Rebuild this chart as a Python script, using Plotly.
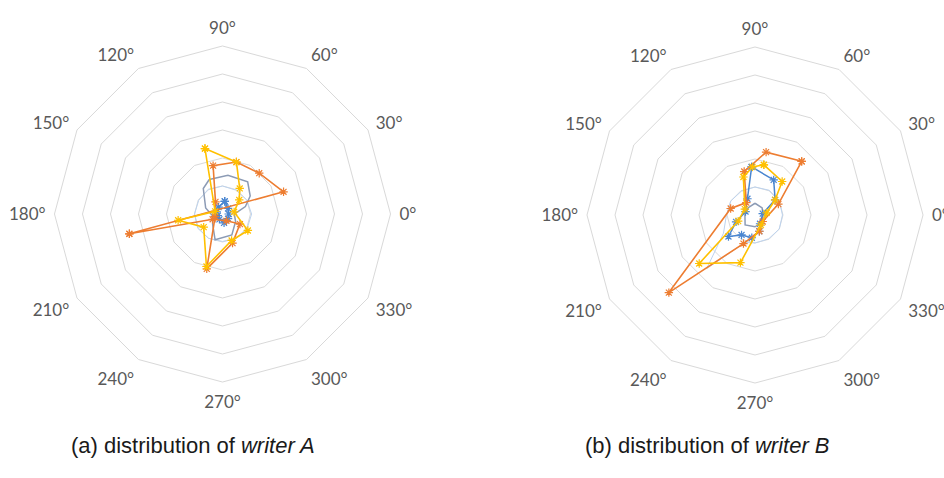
import plotly.graph_objects as go

# Direction labels shown around each radar (12 directions, 30 degrees apart)
ANGLE_LABELS = [f"{a}°" for a in range(0, 360, 30)]
RING_MAX = 30      # outer ring, percent
RING_STEP = 5      # ring spacing, percent

# ---- writer A: stroke-direction distributions (theta in degrees, r in percent)
A_ORANGE_THETA = [192, 20, 48, 75, 101, 120, 200, 254, 289, 330, 300, 208]
A_ORANGE_R = [17.0, 11.6, 9.8, 9.6, 8.8, 2.5, 1.4, 10.2, 5.5, 3.6, 1.4, 2.0]

A_YELLOW_THETA = [105, 75, 56, 40, 10, 327, 289, 253, 215, 188, 160]
A_YELLOW_R = [12.1, 9.6, 5.5, 3.9, 2.1, 5.4, 5.0, 9.8, 4.1, 8.0, 1.4]

A_GRAY_THETA = [111, 82, 52, 33, 18, 0, 330, 294, 254, 225, 190, 160, 127]
A_GRAY_R = [6.6, 7.0, 7.3, 5.9, 4.3, 2.1, 2.7, 4.1, 4.8, 2.5, 1.8, 3.2, 5.7]

A_BLUE_THETA = [80, 45, 0, 320, 280, 240, 200, 160, 120]
A_BLUE_R = [2.3, 1.4, 1.1, 1.3, 1.6, 1.1, 0.9, 1.1, 1.4]

A_LIGHT_THETA = [0, 30, 60, 90, 120, 150, 180, 210, 240, 270, 300, 330]
A_LIGHT_R = [5.2, 5.0, 4.9, 5.0, 5.1, 4.9, 5.0, 5.1, 5.0, 4.9, 5.0, 5.1]

# ---- writer B
B_ORANGE_THETA = [49, 80, 104, 125, 165, 222, 248, 285, 320, 25]
B_ORANGE_R = [12.7, 11.4, 8.0, 2.7, 4.5, 20.7, 5.5, 3.0, 1.8, 4.6]

B_YELLOW_THETA = [80, 51, 37, 10, 300, 253, 221, 200, 150, 107, 93]
B_YELLOW_R = [9.1, 7.7, 4.5, 2.1, 2.1, 8.9, 13.2, 3.2, 2.1, 7.1, 8.6]

B_GRAY_THETA = [90, 45, 0, 315, 270, 225, 180, 135]
B_GRAY_R = [2.1, 1.8, 1.4, 1.8, 2.1, 2.5, 1.8, 1.8]

B_BLUE_THETA = [94, 62, 37, 10, 300, 285, 262, 236, 219, 200, 160, 115]
B_BLUE_R = [8.6, 7.1, 4.5, 1.4, 1.8, 3.0, 4.1, 4.3, 6.1, 3.6, 1.8, 3.2]

B_LIGHT_THETA = [0, 30, 60, 90, 120, 150, 180, 210, 228, 250, 270, 300, 330]
B_LIGHT_R = [4.9, 5.0, 5.1, 5.0, 4.9, 5.0, 5.1, 6.5, 12.9, 5.2, 5.0, 4.9, 5.0]

CAPTION_A = "(a) distribution of <i>writer A</i>"
CAPTION_B = "(b) distribution of <i>writer B</i>"

ORANGE = "#ED7D31"
YELLOW = "#FFC000"
GRAY = "#8C9BB5"
BLUE = "#4A86D0"
LIGHT = "#BDD3EE"
GRID = "#D9D9D9"
LABEL = "#595959"


def closed(theta, r):
    return list(theta) + [theta[0]], list(r) + [r[0]]


def series(theta, r, color, subplot, markers=True, width=1.5):
    t, rr = closed(theta, r)
    return go.Scatterpolar(
        theta=t, r=rr, subplot=subplot,
        mode="lines+markers" if markers else "lines",
        line=dict(color=color, width=width),
        marker=dict(symbol="asterisk-open", size=7,
                    line=dict(color=color, width=1.2)),
        hoverinfo="skip", showlegend=False,
    )


def grid_anchor(subplot):
    # invisible trace so the category grid subplot is laid out
    return go.Scatterpolar(
        theta=ANGLE_LABELS, r=[0] * len(ANGLE_LABELS), subplot=subplot,
        mode="lines", line=dict(width=0, color="rgba(0,0,0,0)"),
        hoverinfo="skip", showlegend=False,
    )


fig = go.Figure()

fig.add_trace(grid_anchor("polar"))
fig.add_trace(grid_anchor("polar3"))

for sub, groups in (
    ("polar2", [(A_LIGHT_THETA, A_LIGHT_R, LIGHT, False, 1.0),
                (A_GRAY_THETA, A_GRAY_R, GRAY, False, 1.5),
                (A_BLUE_THETA, A_BLUE_R, BLUE, True, 1.5),
                (A_ORANGE_THETA, A_ORANGE_R, ORANGE, True, 1.6),
                (A_YELLOW_THETA, A_YELLOW_R, YELLOW, True, 1.6)]),
    ("polar4", [(B_LIGHT_THETA, B_LIGHT_R, LIGHT, False, 1.0),
                (B_GRAY_THETA, B_GRAY_R, GRAY, False, 1.5),
                (B_BLUE_THETA, B_BLUE_R, BLUE, True, 1.5),
                (B_ORANGE_THETA, B_ORANGE_R, ORANGE, True, 1.6),
                (B_YELLOW_THETA, B_YELLOW_R, YELLOW, True, 1.6)]),
):
    for th, rv, col, mk, w in groups:
        fig.add_trace(series(th, rv, col, sub, mk, w))


def grid_polar(xdom, ydom):
    return dict(
        domain=dict(x=xdom, y=ydom),
        bgcolor="rgba(0,0,0,0)",
        gridshape="linear",
        radialaxis=dict(range=[0, RING_MAX], dtick=RING_STEP, tick0=0,
                        showticklabels=False, ticks="", showline=False,
                        gridcolor=GRID, gridwidth=1),
        angularaxis=dict(type="category", categoryarray=ANGLE_LABELS,
                         rotation=0, direction="counterclockwise",
                         showgrid=False, showline=True, linecolor=GRID,
                         linewidth=1, ticks="outside", ticklen=5,
                         tickcolor="rgba(0,0,0,0)",
                         tickfont=dict(family="Lato, Carlito, sans-serif",
                                       size=17, color=LABEL)),
    )


def data_polar(xdom, ydom):
    return dict(
        domain=dict(x=xdom, y=ydom),
        bgcolor="rgba(0,0,0,0)",
        radialaxis=dict(range=[0, RING_MAX], showgrid=False,
                        showticklabels=False, ticks="", showline=False),
        angularaxis=dict(rotation=0, direction="counterclockwise",
                         showgrid=False, showline=False, ticks="",
                         showticklabels=False),
    )


XA, YA = [0.0577, 0.4137], [0.2008, 0.9038]
XB, YB = [0.6218, 0.9778], [0.1987, 0.9017]

fig.update_layout(
    width=944, height=478,
    margin=dict(l=0, r=0, t=0, b=0),
    paper_bgcolor="white",
    polar=grid_polar(XA, YA),
    polar2=data_polar(XA, YA),
    polar3=grid_polar(XB, YB),
    polar4=data_polar(XB, YB),
    annotations=[
        dict(text=CAPTION_A, x=0.2045, y=0.067, xref="paper", yref="paper",
             showarrow=False, xanchor="center", yanchor="middle",
             font=dict(family="Liberation Sans, Arial, sans-serif",
                       size=22, color="#1a1a1a")),
        dict(text=CAPTION_B, x=0.749, y=0.067, xref="paper", yref="paper",
             showarrow=False, xanchor="center", yanchor="middle",
             font=dict(family="Liberation Sans, Arial, sans-serif",
                       size=22, color="#1a1a1a")),
    ],
)

fig.write_html("out.html")
